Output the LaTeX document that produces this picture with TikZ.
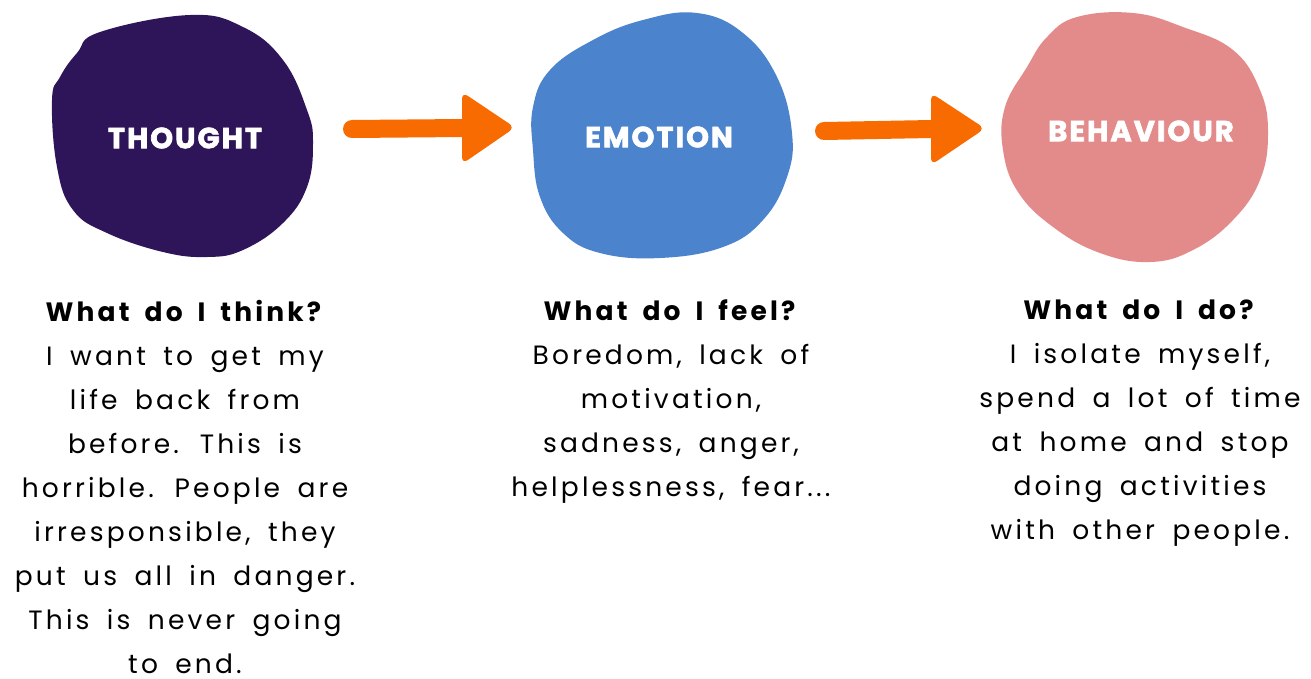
\documentclass[tikz,border=0pt]{standalone}
\usepackage{fontspec}
\setmainfont{Poppins}
\newfontfamily\bodyfont{Poppins}[LetterSpace=12, WordSpace=1.7]
\newfontfamily\headfont{Poppins}[LetterSpace=7, BoldFeatures={FakeBold=2.4}]
\definecolor{thoughtcol}{HTML}{2E1458}
\definecolor{emotioncol}{HTML}{4B83CC}
\definecolor{behavcol}{HTML}{E38B8B}
\definecolor{arrowcol}{HTML}{F76B00}
\begin{document}
\begin{tikzpicture}[x=1pt,y=-1pt,
  blob/.style={smooth cycle, tension=0.7},
  blobtitle/.style={text=white, font=\headfont\bfseries\fontsize{29}{29}\selectfont, inner sep=0pt},
  bodytext/.style={align=center, anchor=north, inner sep=0pt, text=black,
    font=\bodyfont\fontsize{26.5}{44}\selectfont},
  shaft/.style={draw=arrowcol, line width=18pt, line cap=round},
  headtip/.style={fill=arrowcol, rounded corners=7pt}]
\useasboundingbox (0,0) rectangle (1311,678);

% the three blobs
\fill[thoughtcol] plot[blob] coordinates {
  (100,32) (190,15) (243,27) (283,60) (307,110) (313,143) (307,187)
  (283,223) (243,250) (207,257) (163,252) (107,233) (73,210) (57,167)
  (52,100) (60,77) (77,53)};
\fill[emotioncol] plot[blob] coordinates {
  (697,13) (743,33) (777,77) (792,133) (787,177) (763,220) (723,247)
  (660,258) (600,253) (563,233) (540,197) (533,150) (533,107) (550,70)
  (593,40) (643,20)};
\fill[behavcol] plot[blob] coordinates {
  (1077,17) (1133,13) (1183,27) (1233,50) (1260,90) (1268,133) (1260,180)
  (1233,220) (1193,250) (1150,262) (1100,253) (1053,227) (1018,192)
  (1003,150) (1005,107) (1027,67) (1047,37)};

% titles
\node[blobtitle] (thought) at (185,138) {THOUGHT};
\node[blobtitle] (emotion) at (659,137) {EMOTION};
\node[blobtitle] (behaviour) at (1141,131) {BEHAVIOUR};

% arrow end points
\coordinate (a1s) at (352,129);
\coordinate (a1b) at (462,128);
\coordinate (a1tip) at (515,127.5);
\coordinate (a2s) at (824,131);
\coordinate (a2b) at (931,129);
\coordinate (a2tip) at (985,128.5);

% arrows
\draw[shaft] (a1s) -- (a1b);
\fill[headtip] ([yshift=-36pt]a1b) -- (a1tip) -- ([yshift=36pt]a1b) -- cycle;
\draw[shaft] (a2s) -- (a2b);
\fill[headtip] ([yshift=-36pt]a2b) -- (a2tip) -- ([yshift=36pt]a2b) -- cycle;

% captions
\node[bodytext] (thinktext) at (185,300) {\textbf{What do I think?}\\
  I want to get my\\ life back from\\ before. This is\\ horrible. People are\\
  irresponsible, they\\ put us all in danger.\\ This is never going\\ to end.};
\node[bodytext] (feeltext) at (671,300) {\textbf{What do I feel?}\\
  Boredom, lack of\\ motivation,\\ sadness, anger,\\ helplessness, fear...};
\node[bodytext] (dotext) at (1140,300) {\textbf{What do I do?}\\
  I isolate myself,\\ spend a lot of time\\ at home and stop\\ doing activities\\
  with other people.};
\end{tikzpicture}
\end{document}
